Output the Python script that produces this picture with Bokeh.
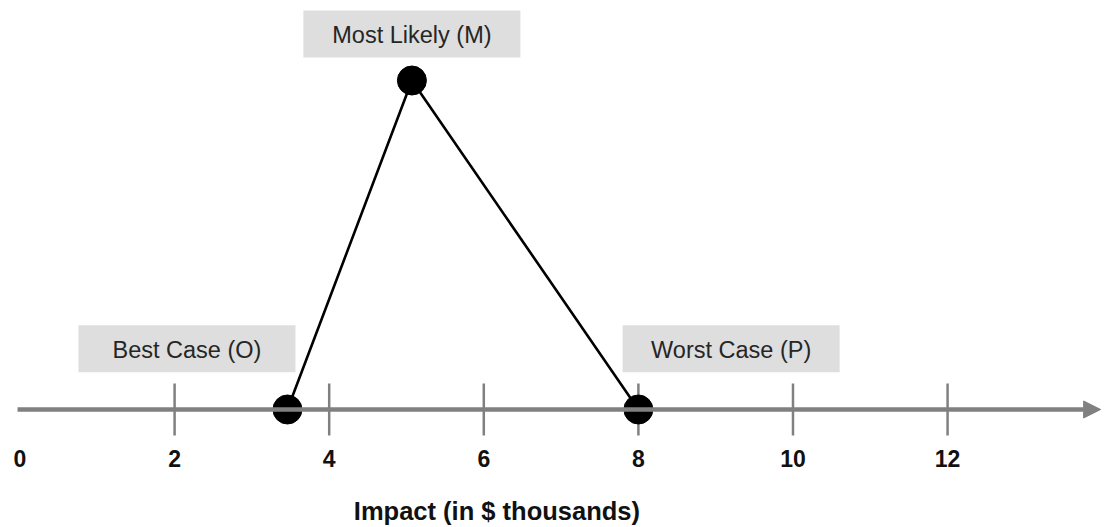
from bokeh.plotting import figure
from bokeh.models import Range1d, Arrow, NormalHead, ColumnDataSource
from bokeh.core.properties import value
from bokeh.embed import file_html
from bokeh.resources import INLINE

# ---- data ----
point_labels = ["Best Case (O)", "Most Likely (M)", "Worst Case (P)"]
point_x = [3.46, 5.07, 8.0]         # impact in $ thousands
point_y = [0.0, 1.0, 0.0]           # relative likelihood
label_x = [2.16, 5.07, 9.2]
label_y = [0.185, 1.141, 0.185]
tick_values = [0, 2, 4, 6, 8, 10, 12]
tick_labels = ["0", "2", "4", "6", "8", "10", "12"]
axis_title = "Impact (in $ thousands)"

W, H = 1105, 527
p = figure(width=W, height=H, output_backend="svg", toolbar_location=None,
           x_range=Range1d(-0.2523, 14.043), y_range=Range1d(-0.3587, 1.2432),
           min_border=0, min_border_left=0, min_border_right=0,
           min_border_top=0, min_border_bottom=0)
p.axis.visible = False
p.grid.visible = False
p.outline_line_color = None
p.background_fill_color = "white"
p.border_fill_color = "white"

AX = "#808080"
# horizontal axis with arrow
p.add_layout(Arrow(x_start=-0.032, y_start=0, x_end=13.98, y_end=0,
                   line_color=AX, line_width=4.5,
                   end=NormalHead(size=17, fill_color=AX, line_color=AX, line_width=1)))
# tick marks (no mark at 0)
tick_marks = [t for t in tick_values if t != 0]
p.segment(x0=tick_marks, x1=tick_marks, y0=[-0.079] * len(tick_marks),
          y1=[0.079] * len(tick_marks), line_color=AX, line_width=2.5)

# tick labels
p.text(x=tick_values, y=[-0.1733] * len(tick_values), text=tick_labels,
       y_offset=-8,
       text_font=value("Liberation Sans"), text_font_style="bold",
       text_font_size="23px", text_align="center", text_baseline="alphabetic",
       text_color="#111111")

# label boxes
src = ColumnDataSource(dict(x=label_x, y=label_y, t=point_labels))
p.rect(x="x", y="y", width=217, height=47, width_units="screen",
       height_units="screen", source=src, fill_color="#dedede", line_color=None)
p.text(x="x", y="y", text="t", source=src, y_offset=1,
       text_font=value("Liberation Sans"), text_font_size="23.5px",
       text_align="center", text_baseline="alphabetic", text_color="#262626")

# triangle line and points
p.line(point_x, point_y, line_color="black", line_width=2.6)
p.scatter(point_x, point_y, size=29, fill_color="black", line_color="black")

# axis title
p.text(x=[6.17], y=[-0.3465], text=[axis_title], y_offset=-12,
       text_font=value("Liberation Sans"), text_font_style="bold",
       text_font_size="25.5px", text_align="center", text_baseline="alphabetic",
       text_color="#111111")

open("out.html", "w").write(file_html(p, INLINE))
